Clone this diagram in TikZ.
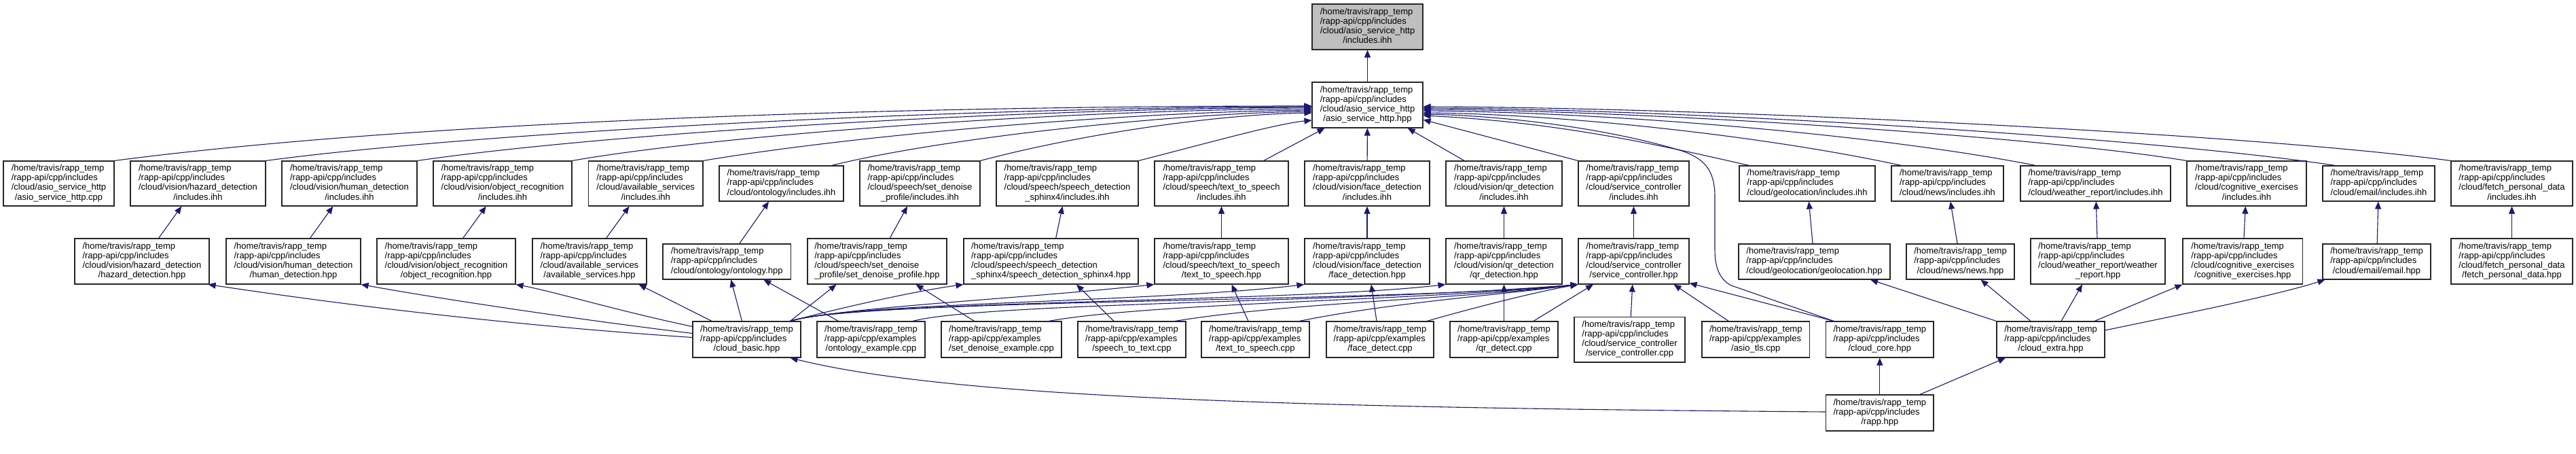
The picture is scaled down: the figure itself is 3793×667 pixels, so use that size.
\documentclass[tikz,border=0pt]{standalone}
\usepackage{fontspec}
\setmainfont{Liberation Sans}
\usetikzlibrary{arrows.meta}
\definecolor{edgeblue}{RGB}{25,25,112}
\definecolor{rootgray}{RGB}{191,191,191}
\newcommand\pHome{/home/travis/rapp\_temp}
\newcommand\pInc{/rapp-api/cpp/includes}
\newcommand\pExm{/rapp-api/cpp/examples}
\newcommand\lnC[3]{\begin{tabular}{@{}l@{}}#1\\#2\\\multicolumn{1}{@{}c@{}}{#3}\end{tabular}}
\newcommand\lnD[4]{\begin{tabular}{@{}l@{}}#1\\#2\\#3\\\multicolumn{1}{@{}c@{}}{#4}\end{tabular}}
\newcommand\bx[6]{\node[box,minimum width=#4pt,minimum height=#5pt] (#1) at (#2,#3) {#6};}
\begin{document}
\begin{tikzpicture}[x=1pt,y=-1pt,
  box/.style={draw=black!85,line width=1.1pt,inner sep=0pt,rectangle,fill=white,
    font=\fontsize{13}{14.2}\selectfont},
  edge/.style={draw=edgeblue,line width=1.1pt,-{Triangle[length=11pt,width=9pt]}}]
\fill[white] (0,0) rectangle (3793,667);
\useasboundingbox (0,0) rectangle (3793,667);
% row 0
\node[box,fill=rootgray,minimum width=163pt,minimum height=67pt] (root) at (2013.5,39.5)
  {\lnD{\pHome}{\pInc}{/cloud/asio\_service\_http}{/includes.ihh}};
\bx{hpp}{2013.5}{154.5}{163}{67}{\lnD{\pHome}{\pInc}{/cloud/asio\_service\_http}{/asio\_service\_http.hpp}}
% row 1
\bx{asiocpp}{86.5}{270}{163}{66}{\lnD{\pHome}{\pInc}{/cloud/asio\_service\_http}{/asio\_service\_http.cpp}}
\bx{hazI}{291.5}{270}{199}{66}{\lnD{\pHome}{\pInc}{/cloud/vision/hazard\_detection}{/includes.ihh}}
\bx{humI}{514.5}{270}{199}{66}{\lnD{\pHome}{\pInc}{/cloud/vision/human\_detection}{/includes.ihh}}
\bx{objI}{740}{270}{204}{66}{\lnD{\pHome}{\pInc}{/cloud/vision/object\_recognition}{/includes.ihh}}
\bx{avI}{950.75}{270}{168.5}{66}{\lnD{\pHome}{\pInc}{/cloud/available\_services}{/includes.ihh}}
\bx{ontI}{1150.5}{270}{183}{52}{\lnC{\pHome}{\pInc}{/cloud/ontology/includes.ihh}}
\bx{sdI}{1354.5}{270}{177}{66}{\lnD{\pHome}{\pInc}{/cloud/speech/set\_denoise}{\_profile/includes.ihh}}
\bx{spI}{1571.5}{270}{209}{66}{\lnD{\pHome}{\pInc}{/cloud/speech/speech\_detection}{\_sphinx4/includes.ihh}}
\bx{ttsI}{1798.5}{270}{197}{66}{\lnD{\pHome}{\pInc}{/cloud/speech/text\_to\_speech}{/includes.ihh}}
\bx{faceI}{2013}{270}{184}{66}{\lnD{\pHome}{\pInc}{/cloud/vision/face\_detection}{/includes.ihh}}
\bx{qrI}{2214.5}{270}{171}{66}{\lnD{\pHome}{\pInc}{/cloud/vision/qr\_detection}{/includes.ihh}}
\bx{scI}{2405.5}{270}{163}{66}{\lnD{\pHome}{\pInc}{/cloud/service\_controller}{/includes.ihh}}
\bx{geoI}{2661}{270}{200}{52}{\lnC{\pHome}{\pInc}{/cloud/geolocation/includes.ihh}}
\bx{newsI}{2867.5}{270}{165}{52}{\lnC{\pHome}{\pInc}{/cloud/news/includes.ihh}}
\bx{wI}{3085.5}{270}{221}{52}{\lnC{\pHome}{\pInc}{/cloud/weather\_report/includes.ihh}}
\bx{cogI}{3308}{270}{176}{66}{\lnD{\pHome}{\pInc}{/cloud/cognitive\_exercises}{/includes.ihh}}
\bx{emI}{3502.5}{270}{165}{52}{\lnC{\pHome}{\pInc}{/cloud/email/includes.ihh}}
\bx{fetchI}{3698.5}{270}{179}{66}{\lnD{\pHome}{\pInc}{/cloud/fetch\_personal\_data}{/includes.ihh}}
% row 2
\bx{hazH}{209}{384.5}{198}{67}{\lnD{\pHome}{\pInc}{/cloud/vision/hazard\_detection}{/hazard\_detection.hpp}}
\bx{humH}{432}{384.5}{198}{67}{\lnD{\pHome}{\pInc}{/cloud/vision/human\_detection}{/human\_detection.hpp}}
\bx{objH}{657}{384.5}{204}{67}{\lnD{\pHome}{\pInc}{/cloud/vision/object\_recognition}{/object\_recognition.hpp}}
\bx{avH}{868}{384.5}{168}{67}{\lnD{\pHome}{\pInc}{/cloud/available\_services}{/available\_services.hpp}}
\bx{ontH}{1070.25}{385}{188.5}{52}{\lnC{\pHome}{\pInc}{/cloud/ontology/ontology.hpp}}
\bx{sdH}{1291.5}{384.5}{205}{67}{\lnD{\pHome}{\pInc}{/cloud/speech/set\_denoise}{\_profile/set\_denoise\_profile.hpp}}
\bx{spH}{1547.5}{384.5}{257}{67}{\lnD{\pHome}{\pInc}{/cloud/speech/speech\_detection}{\_sphinx4/speech\_detection\_sphinx4.hpp}}
\bx{ttsH}{1798.5}{384.5}{197}{67}{\lnD{\pHome}{\pInc}{/cloud/speech/text\_to\_speech}{/text\_to\_speech.hpp}}
\bx{faceH}{2013}{384.5}{184}{67}{\lnD{\pHome}{\pInc}{/cloud/vision/face\_detection}{/face\_detection.hpp}}
\bx{qrH}{2214.5}{384.5}{171}{67}{\lnD{\pHome}{\pInc}{/cloud/vision/qr\_detection}{/qr\_detection.hpp}}
\bx{scH}{2405.5}{384.5}{163}{67}{\lnD{\pHome}{\pInc}{/cloud/service\_controller}{/service\_controller.hpp}}
\bx{geoH}{2671.5}{385}{223}{52}{\lnC{\pHome}{\pInc}{/cloud/geolocation/geolocation.hpp}}
\bx{newsH}{2886.5}{385}{159}{52}{\lnC{\pHome}{\pInc}{/cloud/news/news.hpp}}
\bx{wH}{3089}{384.5}{198}{67}{\lnD{\pHome}{\pInc}{/cloud/weather\_report/weather}{\_report.hpp}}
\bx{cogH}{3302.25}{384.5}{176.5}{67}{\lnD{\pHome}{\pInc}{/cloud/cognitive\_exercises}{/cognitive\_exercises.hpp}}
\bx{emH}{3499.5}{385}{159}{52}{\lnC{\pHome}{\pInc}{/cloud/email/email.hpp}}
\bx{fetchH}{3698.5}{384.5}{179}{67}{\lnD{\pHome}{\pInc}{/cloud/fetch\_personal\_data}{/fetch\_personal\_data.hpp}}
% row 3
\bx{basic}{1099.5}{499.5}{159}{53}{\lnC{\pHome}{\pInc}{/cloud\_basic.hpp}}
\bx{ontEx}{1282.5}{499.5}{159}{53}{\lnC{\pHome}{\pExm}{/ontology\_example.cpp}}
\bx{sdEx}{1474.5}{499.5}{177}{53}{\lnC{\pHome}{\pExm}{/set\_denoise\_example.cpp}}
\bx{stt}{1666.5}{499.5}{159}{53}{\lnC{\pHome}{\pExm}{/speech\_to\_text.cpp}}
\bx{ttsEx}{1848.5}{499.5}{159}{53}{\lnC{\pHome}{\pExm}{/text\_to\_speech.cpp}}
\bx{faceEx}{2032}{499.5}{158}{53}{\lnC{\pHome}{\pExm}{/face\_detect.cpp}}
\bx{qrEx}{2214.5}{499.5}{159}{53}{\lnC{\pHome}{\pExm}{/qr\_detect.cpp}}
\bx{scCpp}{2399.5}{499.75}{163}{66.5}{\lnD{\pHome}{\pInc}{/cloud/service\_controller}{/service\_controller.cpp}}
\bx{asiotls}{2585.25}{499.5}{158.5}{53}{\lnC{\pHome}{\pExm}{/asio\_tls.cpp}}
\bx{core}{2767.8}{499.5}{158.4}{53}{\lnC{\pHome}{\pInc}{/cloud\_core.hpp}}
\bx{extra}{3019.5}{499.5}{159}{53}{\lnC{\pHome}{\pInc}{/cloud\_extra.hpp}}
% row 4
\bx{rapp}{2767.8}{607.5}{158.4}{53}{\lnC{\pHome}{\pInc}{/rapp.hpp}}
% ---- edges: hpp -> root
\draw[edge] (hpp) -- (root);
% row 1 -> hpp (left group)
\draw[edge] (asiocpp.north east) .. controls (600,180) and (1300,156) .. ([yshift=-1.5pt]hpp.west);
\draw[edge] (hazI.north east) .. controls (700,195) and (1400,158) .. ([yshift=-2.5pt]hpp.west);
\draw[edge] (humI.north east) .. controls (900,195) and (1500,160) .. ([yshift=-3.5pt]hpp.west);
\draw[edge] (objI.north east) .. controls (1050,200) and (1550,162) .. ([yshift=-5.5pt]hpp.west);
\draw[edge] (avI.north east) .. controls (1250,200) and (1650,165) .. ([yshift=-7.5pt]hpp.west);
\draw[edge] ([xshift=-18pt]ontI.north east) .. controls (1400,200) and (1750,166) .. ([yshift=-9.5pt]hpp.west);
\draw[edge] (sdI.north east) .. controls (1600,195) and (1800,168) .. ([yshift=-11.5pt]hpp.west);
\draw[edge] (spI.north east) .. controls (1780,210) and (1880,182) .. ([yshift=-22.5pt]hpp.west);
\draw[edge] ([xshift=62pt]ttsI.north) -- ([xshift=-63pt]hpp.south);
\draw[edge] (faceI) -- (hpp);
\draw[edge] (qrI) -- (hpp);
\draw[edge] (scI.north west) -- (hpp);
% row 1 -> hpp (right group)
\draw[edge] ([xshift=15pt]geoI.north west) .. controls (2450,215) and (2300,180) .. ([yshift=-15.5pt]hpp.east);
\draw[edge] ([xshift=15pt]newsI.north west) .. controls (2600,200) and (2300,168) .. ([yshift=-11.5pt]hpp.east);
\draw[edge] ([xshift=23pt]wI.north west) .. controls (2750,195) and (2350,165) .. ([yshift=-8.5pt]hpp.east);
\draw[edge] (cogI.north west) .. controls (3000,200) and (2400,162) .. ([yshift=-6.5pt]hpp.east);
\draw[edge] ([xshift=19pt]emI.north west) .. controls (3150,200) and (2450,160) .. ([yshift=-4.5pt]hpp.east);
\draw[edge] (fetchI.north west) .. controls (3300,195) and (2500,158) .. ([yshift=-2.5pt]hpp.east);
% core -> hpp
\draw[edge] ([xshift=12pt]core.north west) -- (2549,420) .. controls (2530,410) and (2525,390) .. (2525,367)
  -- (2525,290) .. controls (2525,250) and (2510,232) .. (2470,220)
  .. controls (2350,185) and (2200,170) .. ([yshift=-13.5pt]hpp.east);
% row 2 -> row 1
\draw[edge] (hazH) -- (hazI);
\draw[edge] (humH) -- (humI);
\draw[edge] (objH) -- (objI);
\draw[edge] (avH) -- (avI);
\draw[edge] (ontH) -- (ontI);
\draw[edge] (sdH) -- (sdI);
\draw[edge] (spH) -- (spI);
\draw[edge] (ttsH) -- (ttsI);
\draw[edge] (faceH) -- (faceI);
\draw[edge] (qrH) -- (qrI);
\draw[edge] (scH) -- (scI);
\draw[edge] (geoH) -- (geoI);
\draw[edge] (newsH) -- (newsI);
\draw[edge] (wH) -- (wI);
\draw[edge] (cogH) -- (cogI);
\draw[edge] (emH) -- (emI);
\draw[edge] (fetchH) -- (fetchI);
% row 3 -> row 2
\draw[edge] ([yshift=3pt]basic.west) .. controls (700,475) and (450,440) .. ([xshift=-2pt]hazH.south east);
\draw[edge] ([yshift=9pt]basic.west) .. controls (850,470) and (650,440) .. (humH.south east);
\draw[edge] ([yshift=19pt]basic.west) .. controls (900,455) and (820,430) .. (objH.south east);
\draw[edge] ([xshift=-51.5pt]basic.north) -- ([xshift=-12pt]avH.south east);
\draw[edge] ([xshift=-7pt]basic.north) -- ([xshift=6pt]ontH.south);
\draw[edge] ([xshift=-48pt]ontEx.north) -- ([xshift=54pt]ontH.south);
\draw[edge] ([xshift=64pt]basic.north) -- ([xshift=-60pt]sdH.south);
\draw[edge] ([xshift=-40pt]sdEx.north) -- ([xshift=57pt]sdH.south);
\draw[edge] ([xshift=64pt]basic.north) .. controls (1250,450) and (1350,428) .. (spH.south west);
\draw[edge] ([xshift=64pt]basic.north) .. controls (1240,452) and (1500,440) .. (ttsH.south west);
\draw[edge] ([xshift=64pt]basic.north) .. controls (1250,445) and (1700,445) .. (faceH.south west);
\draw[edge] ([xshift=64pt]basic.north) .. controls (1260,442) and (1900,445) .. (qrH.south west);
\draw[edge] ([xshift=64pt]basic.north) .. controls (1260,440) and (2050,445) .. (scH.south west);
\draw[edge] ([xshift=61.5pt]ontEx.north) .. controls (1450,445) and (2000,445) .. (scH.south west);
\draw[edge] ([xshift=69.5pt]sdEx.north) .. controls (1700,445) and (2100,442) .. (scH.south west);
\draw[edge] ([xshift=-26.5pt]stt.north) -- ([xshift=37.5pt]spH.south);
\draw[edge] ([xshift=63.5pt]stt.north) .. controls (1900,445) and (2150,440) .. (scH.south west);
\draw[edge] ([xshift=-10.5pt]ttsEx.north) -- ([xshift=15pt]ttsH.south);
\draw[edge] ([xshift=64.5pt]ttsEx.north) .. controls (2050,445) and (2200,435) .. (scH.south west);
\draw[edge] ([xshift=-5pt]faceEx.north) -- ([xshift=6pt]faceH.south);
\draw[edge] ([xshift=69pt]faceEx.north) .. controls (2180,450) and (2260,430) .. (scH.south west);
\draw[edge] (qrEx) -- (qrH);
\draw[edge] ([xshift=43.5pt]qrEx.north) -- ([xshift=-59.5pt]scH.south);
\draw[edge] (scCpp) -- (scH);
\draw[edge] ([xshift=-40pt]asiotls.north) -- ([xshift=-23pt]scH.south east);
\draw[edge] ([xshift=12pt]core.north west) -- ([yshift=2pt]scH.south east);
% extra
\draw[edge] (extra.north west) -- ([xshift=-29.5pt]geoH.south east);
\draw[edge] ([xshift=-29.5pt]extra.north) -- ([xshift=30pt]newsH.south);
\draw[edge] ([xshift=15.5pt]extra.north) -- ([xshift=-23pt]wH.south);
\draw[edge] ([xshift=64.5pt]extra.north) -- (cogH.south west);
\draw[edge] ([yshift=13.5pt]extra.east) .. controls (3200,465) and (3350,435) .. ([xshift=4pt]emH.south west);
% rapp
\draw[edge] ([yshift=1.5pt]rapp.west) .. controls (1900,600) and (1400,585) .. ([xshift=64pt]basic.south);
\draw[edge] (rapp) -- (core);
\draw[edge] ([xshift=59pt]rapp.north) -- ([xshift=-66.5pt]extra.south);
\end{tikzpicture}
\end{document}
